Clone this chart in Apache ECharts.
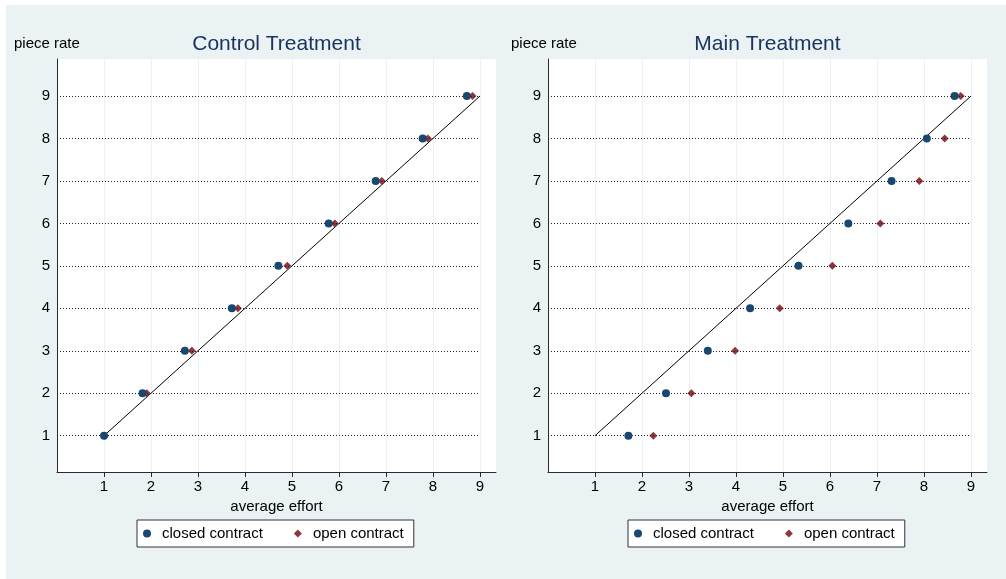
<!DOCTYPE html>
<html>
<head>
<meta charset="utf-8">
<script src="https://cdn.jsdelivr.net/npm/echarts@6/dist/echarts.min.js"></script>
<style>
  html, body { margin: 0; padding: 0; background: #fff; }
  #chart { width: 1006px; height: 579px; }
</style>
</head>
<body>
<div id="chart"></div>
<script>
// ---- data ----
const panelTitles = ['Control Treatment', 'Main Treatment'];
const seriesNames = ['closed contract', 'open contract'];
const pieceRate = [1, 2, 3, 4, 5, 6, 7, 8, 9];
const xTickValues = [1, 2, 3, 4, 5, 6, 7, 8, 9];
const yTickValues = [1, 2, 3, 4, 5, 6, 7, 8, 9];
const controlClosed = [1.00, 1.82, 2.72, 3.72, 4.71, 5.78, 6.78, 7.78, 8.72];
const controlOpen   = [1.02, 1.91, 2.87, 3.85, 4.90, 5.91, 6.91, 7.89, 8.84];
const mainClosed    = [1.71, 2.51, 3.40, 4.30, 5.33, 6.39, 7.31, 8.06, 8.65];
const mainOpen      = [2.24, 3.05, 3.98, 4.93, 6.05, 7.07, 7.90, 8.44, 8.78];
const diagonalX = [1, 9];
const diagonalY = [1, 9];
const yName = 'piece rate';
const xName = 'average effort';

// ---- styling / layout ----
const FONT = '"Liberation Sans", Arial, Helvetica, sans-serif';
const BLUE = '#1a476f';
const RED = '#90353b';
const gridLefts = [57, 548];
const yNameLefts = [14, 511];
const gridTop = 59, gridW = 439, gridH = 413;
const xMin = 0, xMax = 9.34, yMin = 0.145, yMax = 9.871;

const panels = [[controlClosed, controlOpen], [mainClosed, mainOpen]];

const grids = gridLefts.map(l => ({
  left: l, top: gridTop, width: gridW, height: gridH,
  show: true, backgroundColor: '#ffffff', borderWidth: 0, containLabel: false
}));

const xAxes = gridLefts.map((l, i) => ({
  type: 'value', gridIndex: i, min: xMin, max: xMax,
  name: xName, nameLocation: 'middle', nameGap: 20,
  nameTextStyle: { fontFamily: FONT, fontSize: 15, color: '#000' },
  axisLine: { show: true, onZero: false, lineStyle: { color: '#2a2a2a', width: 1 } },
  axisTick: { show: true, length: 5, customValues: xTickValues, lineStyle: { color: '#2a2a2a' } },
  axisLabel: { customValues: xTickValues, margin: 7, fontFamily: FONT, fontSize: 15, color: '#000' },
  splitLine: { show: true, lineStyle: { color: '#eaf2f3', width: 1 } }
}));

const yAxes = gridLefts.map((l, i) => ({
  type: 'value', gridIndex: i, min: yMin, max: yMax,
  axisLine: { show: true, onZero: false, lineStyle: { color: '#2a2a2a', width: 1 } },
  axisTick: { show: false, customValues: yTickValues },
  axisLabel: { customValues: yTickValues, margin: 7, fontFamily: FONT, fontSize: 15, color: '#000' },
  splitLine: { show: false }
}));

const series = [];
panels.forEach((p, i) => {
  // reference y = x line and dotted horizontal gridlines
  series.push({
    type: 'line', xAxisIndex: i, yAxisIndex: i, silent: true,
    data: diagonalX.map((x, k) => [x, diagonalY[k]]),
    symbol: 'none', lineStyle: { color: '#000', width: 1 }, z: 3,
    markLine: {
      silent: true, symbol: ['none', 'none'], label: { show: false },
      lineStyle: { type: [1, 2], color: '#222', width: 1 },
      animation: false,
      data: yTickValues.map(v => [{ coord: [xMin, v] }, { coord: [xTickValues[xTickValues.length - 1], v] }])
    }
  });
  series.push({
    name: seriesNames[1], type: 'scatter', xAxisIndex: i, yAxisIndex: i,
    symbol: 'diamond', symbolSize: 8, itemStyle: { color: RED, opacity: 1 }, z: 4,
    data: p[1].map((x, k) => [x, pieceRate[k]])
  });
  series.push({
    name: seriesNames[0], type: 'scatter', xAxisIndex: i, yAxisIndex: i,
    symbol: 'circle', symbolSize: 8, itemStyle: { color: BLUE, opacity: 1 }, z: 5,
    data: p[0].map((x, k) => [x, pieceRate[k]])
  });
});

const legendLefts = [137, 628];
const legends = legendLefts.map(l => ({
  left: l, top: 520, orient: 'horizontal',
  backgroundColor: '#fff', borderColor: '#333', borderWidth: 1,
  padding: [6, 10, 6, 6], itemWidth: 14, itemHeight: 8, itemGap: 31,
  selectedMode: false,
  textStyle: { fontFamily: FONT, fontSize: 15, color: '#000', padding: [0, 0, 0, 3] },
  data: [
    { name: seriesNames[0], icon: 'circle', itemStyle: { color: BLUE } },
    { name: seriesNames[1], icon: 'path://M4,0L8,4L4,8L0,4Z', itemStyle: { color: RED } }
  ]
}));

const graphics = [
  { type: 'rect', left: 6, top: 5, z: -10, silent: true,
    shape: { width: 1000, height: 574 }, style: { fill: '#eaf2f3' } }
];
gridLefts.forEach((l, i) => {
  graphics.push({ type: 'text', x: l + gridW / 2, y: 44, silent: true,
    style: { text: panelTitles[i], fontFamily: FONT, fontSize: 21, fill: '#1a3560',
             textAlign: 'center', textVerticalAlign: 'middle' } });
  graphics.push({ type: 'text', x: yNameLefts[i], y: 44, silent: true,
    style: { text: yName, fontFamily: FONT, fontSize: 15, fill: '#000',
             textAlign: 'left', textVerticalAlign: 'middle' } });
});

const chart = echarts.init(document.getElementById('chart'), null, { renderer: 'canvas' });
chart.setOption({
  backgroundColor: '#ffffff',
  animation: false,
  grid: grids,
  xAxis: xAxes,
  yAxis: yAxes,
  legend: legends,
  graphic: graphics,
  series: series
});
</script>
</body>
</html>
